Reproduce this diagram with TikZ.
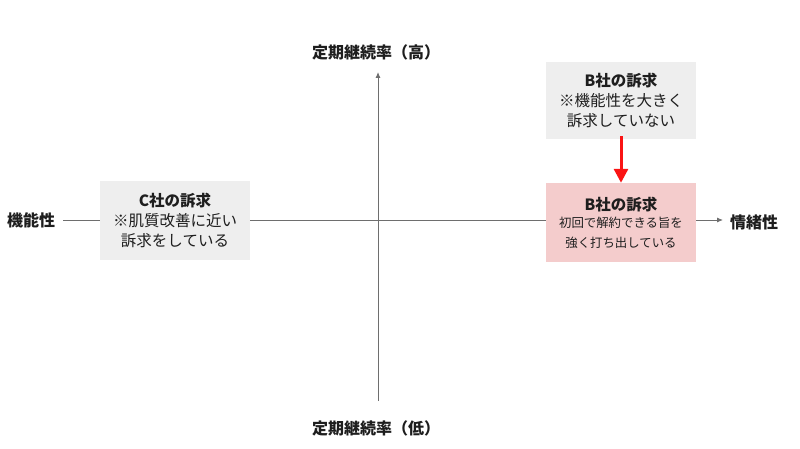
\documentclass[tikz,border=0pt]{standalone}
\usepackage{fontspec}
\setmainfont{Noto Sans CJK JP}
\usepackage{tikz}
\usetikzlibrary{arrows.meta}
\definecolor{AxisGray}{RGB}{110,110,110}
\definecolor{BoxGray}{RGB}{238,238,238}
\definecolor{BoxPink}{RGB}{244,204,204}
\definecolor{ArrowRed}{RGB}{250,20,20}
\definecolor{TextDark}{RGB}{30,30,30}
\newcommand{\smalltxt}{\fontsize{12.4}{16}\selectfont}
\begin{document}
\begin{tikzpicture}[x=1pt,y=-1pt,text=TextDark,
  axis/.style={AxisGray,line width=0.9pt,-{Latex[length=6pt,width=5pt]}},
  axlabel/.style={font=\fontsize{16}{18}\selectfont\bfseries,inner sep=0pt},
  card/.style={fill=#1,minimum width=150pt,align=center,inner sep=0pt,font=\fontsize{15.5}{20}\selectfont},
  push/.style={ArrowRed,line width=3pt,-{Triangle[length=14pt,width=14pt]}}]
\useasboundingbox (0,0) rectangle (800,449);
% axes
\coordinate (xl) at (63,220);
\coordinate (xr) at (723,220);
\coordinate (yb) at (378,401);
\coordinate (yt) at (378,72);
\draw[axis] (xl) -- (xr);
\draw[axis] (yb) -- (yt);
\node[axlabel] (hi) at (376,52) {定期継続率（高）};
\node[axlabel] (lo) at (376,428) {定期継続率（低）};
\node[axlabel,anchor=west] (func) at (7,220) {機能性};
\node[axlabel,anchor=west] (emo) at (730,222) {情緒性};
% boxes
\node[card=BoxGray,minimum height=79pt] (cbox) at (175,220.5)
   {\bfseries C社の訴求\\\mdseries ※肌質改善に近い\\\mdseries 訴求をしている};
\node[card=BoxGray,minimum height=77pt] (bnow) at (621,100.5)
   {\bfseries B社の訴求\\\mdseries ※機能性を大きく\\\mdseries 訴求していない};
\node[card=BoxPink,minimum height=79pt] (bnew) at (621,222.5)
   {\bfseries B社の訴求\\[-3pt]\mdseries\smalltxt 初回で解約できる旨を\\\mdseries\smalltxt 強く打ち出している};
\draw[push] ([yshift=3pt]bnow.south) -- (bnew.north);
\end{tikzpicture}
\end{document}
